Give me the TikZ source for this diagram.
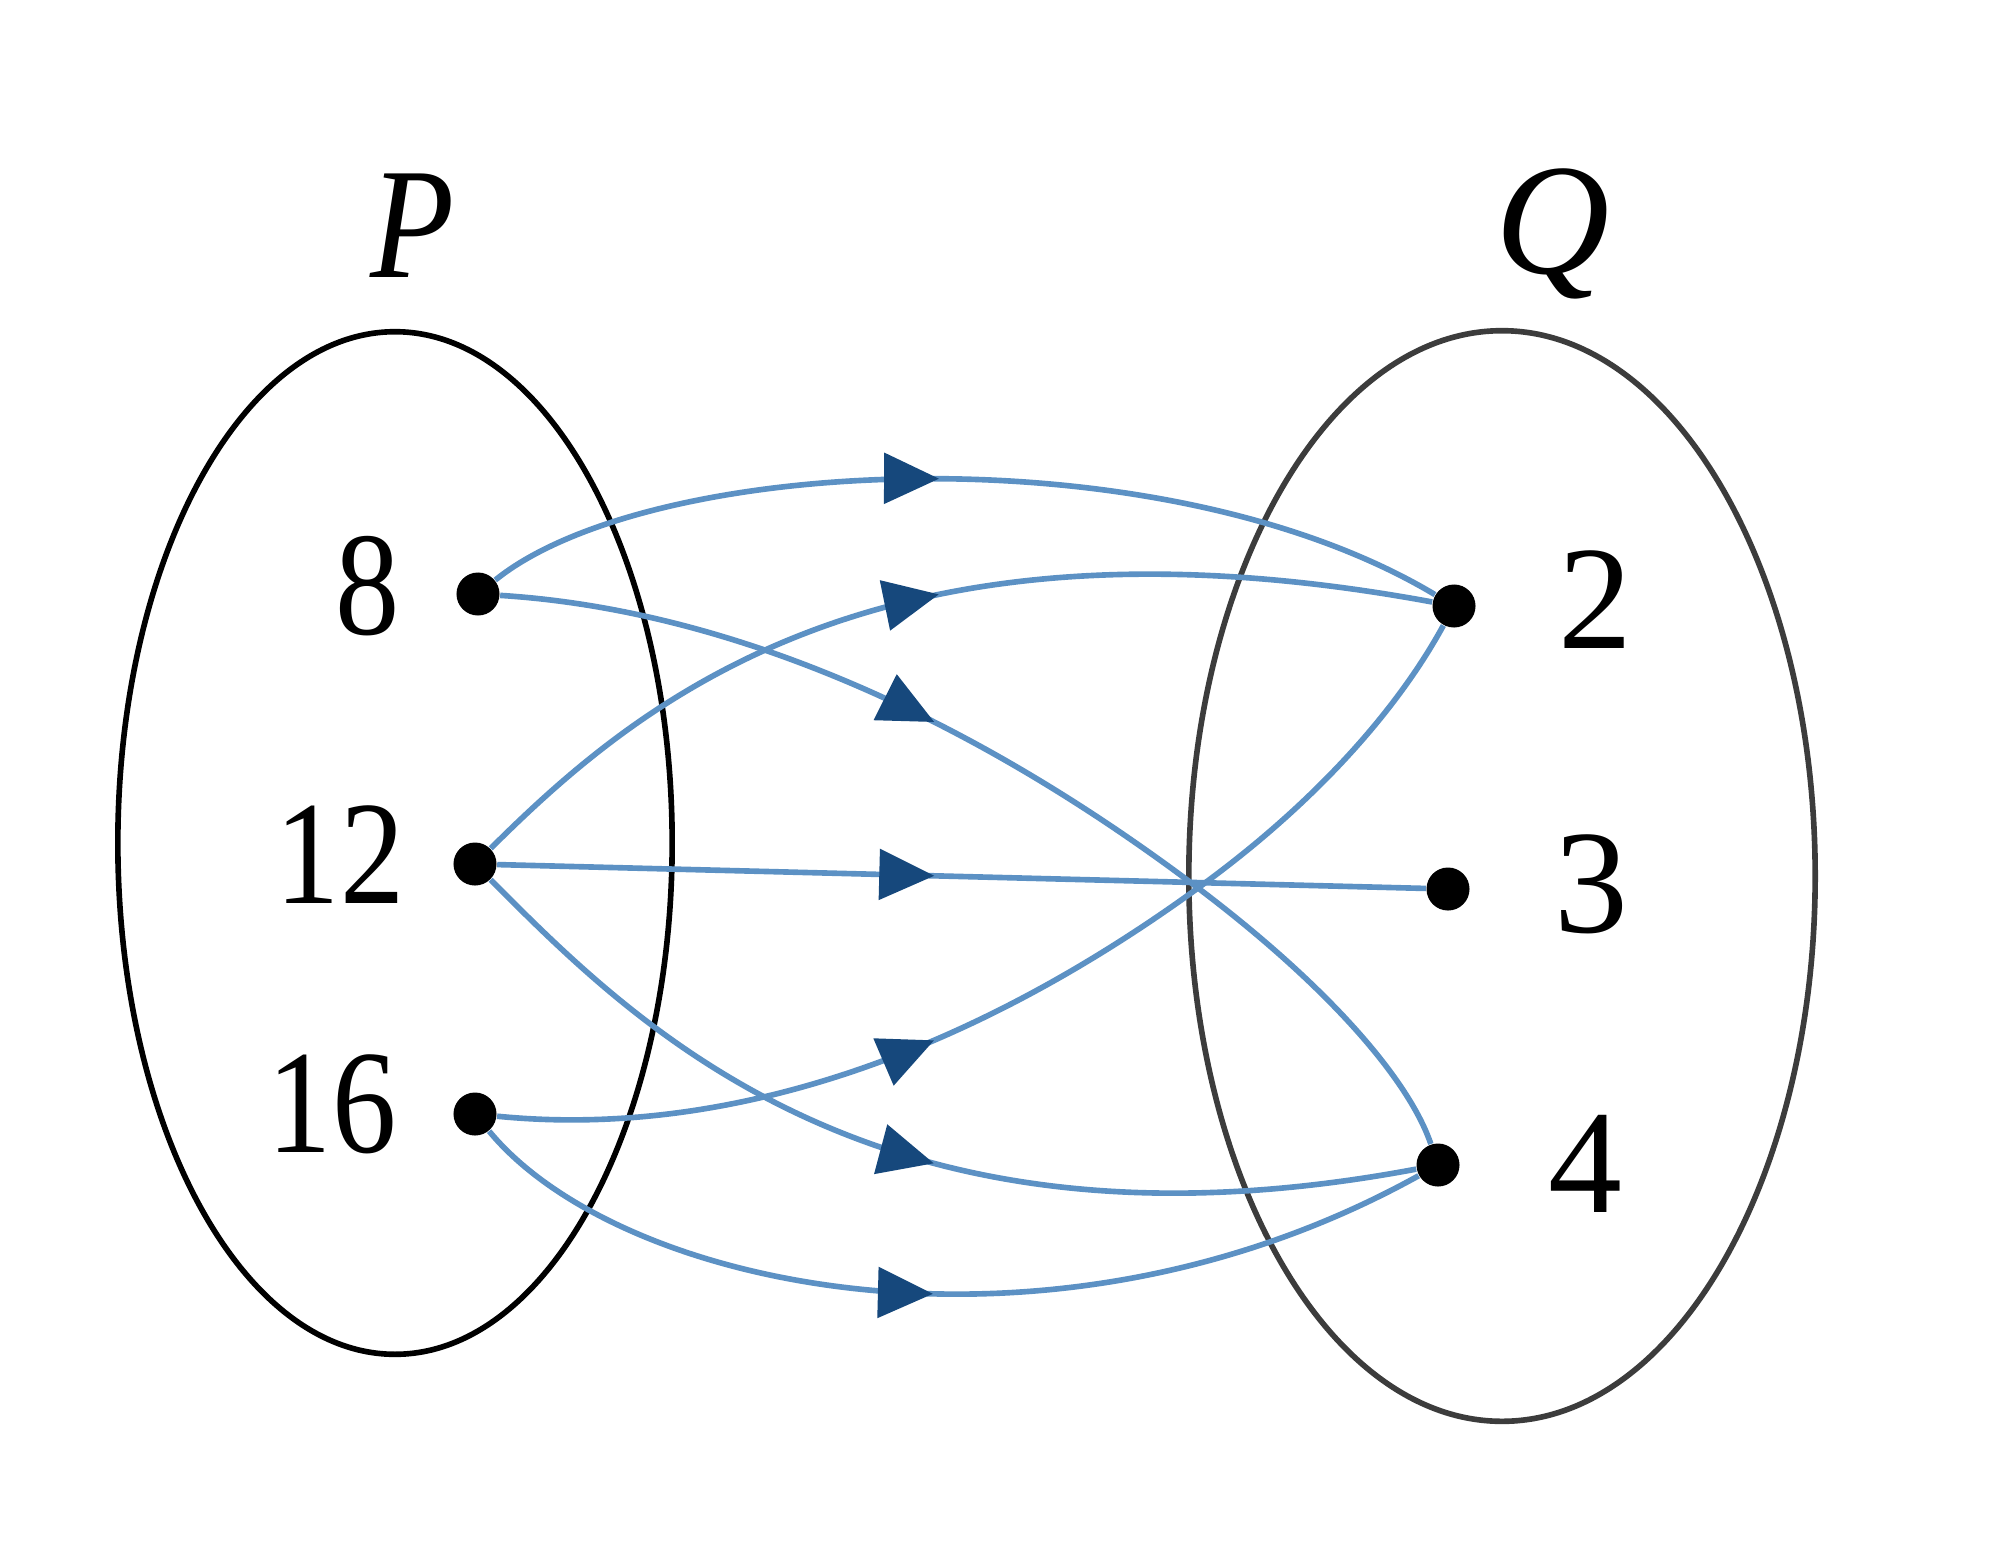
\documentclass[tikz,border=0pt]{standalone}
\usepackage{fontspec}
\setmainfont{Liberation Serif}
\newfontfamily\narrowserif[FakeStretch=0.87]{Liberation Serif}
\usetikzlibrary{decorations.markings,arrows.meta}
\definecolor{edgeblue}{RGB}{92,145,196}
\definecolor{headblue}{RGB}{22,72,124}
\definecolor{setgray}{RGB}{60,60,60}
\begin{document}
\begin{tikzpicture}[x=0.01cm,y=-0.01cm,
  dot/.style={circle,fill=black,inner sep=0pt,minimum size=0.43cm},
  lbl/.style={font=\fontsize{42}{46}\selectfont,inner sep=0pt},
  nlbl/.style={font=\fontsize{42}{46}\selectfont\narrowserif,inner sep=0pt},
  setlbl/.style={font=\fontsize{45}{50}\selectfont\itshape,inner sep=0pt,anchor=base},
  setline/.style={line width=1.6pt},
  edge/.style={draw=edgeblue,line width=1.6pt,postaction={decorate},
    decoration={markings,mark=at position #1 with
      {\arrow{Triangle[length=5.5mm,width=5mm,color=headblue]}}}}]
\useasboundingbox[fill=white] (0,0) rectangle (2003,1557);
% sets
\draw[setline] (395,843) ellipse [x radius=2.77cm, y radius=5.11cm];
\draw[setline,draw=setgray] (1502,876) ellipse [x radius=3.13cm, y radius=5.45cm];
% elements
\node[dot] (p8) at (478,594) {};
\node[dot] (p12) at (475,864) {};
\node[dot] (p16) at (475,1114) {};
\node[dot] (q2) at (1454,606) {};
\node[dot] (q3) at (1448,889) {};
\node[dot] (q4) at (1438,1165) {};
\coordinate (X) at (1198,888);
% labels
\node[nlbl] (l8) at (368,586) {8};
\node[nlbl] (l12) at (340,855) {12};
\node[nlbl] (l16) at (332,1104) {16};
\node[lbl] (l2) at (1595,600) {2};
\node[lbl] (l3) at (1591,884) {3};
\node[lbl] (l4) at (1585,1164) {4};
\node[setlbl,font=\fontsize{45}{50}\selectfont\narrowserif\itshape] (lP) at (413,277) {P};
\node[setlbl] (lQ) at (1553,273) {Q};
% mappings
\draw[edge=4.62cm] (p8) .. controls (650,455) and (1160,430) .. (q2);
\draw[edge=5.23cm] (p12) .. controls (640,700) and (880,500) .. (q2);
\draw[edge=4.55cm] (p8) .. controls (718,609) and (958,707) .. (X)
   .. controls (1329,987) and (1409,1080) .. (q4);
\draw[edge=4.37cm] (p12) -- (q3);
\draw[edge=4.48cm] (p16) .. controls (716,1138) and (957,1063) .. (X)
   .. controls (1310,807) and (1395,714) .. (q2);
\draw[edge=5.33cm] (p12) .. controls (640,1030) and (880,1270) .. (q4);
\draw[edge=4.85cm] (p16) .. controls (620,1290) and (1050,1380) .. (q4);
\end{tikzpicture}
\end{document}
